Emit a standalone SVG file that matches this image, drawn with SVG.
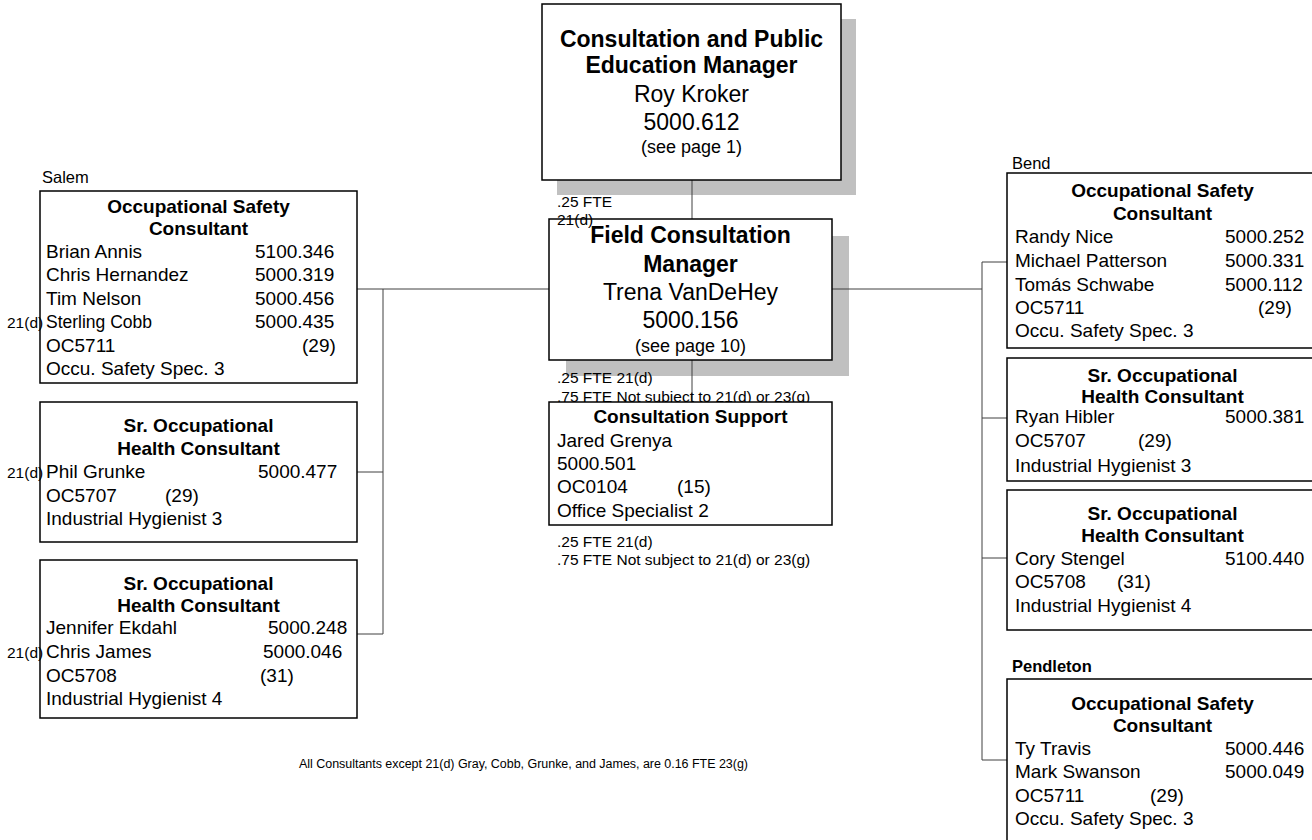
<svg xmlns="http://www.w3.org/2000/svg" width="1312" height="840" viewBox="0 0 1312 840">
  <style>
    text { font-family: "Liberation Sans", Arial, sans-serif; fill: #000; }
    .box { fill: #fff; stroke: #000; stroke-width: 1.5; }
    .shadow { fill: #c0c0c0; stroke: none; }
    .conn line { stroke: #404040; stroke-width: 1; }
    .ttl { font-weight: bold; font-size: 19px; text-anchor: middle; }
    .row { font-size: 19px; }
    .small { font-size: 15.5px; }
    .cond { font-size: 17.5px; }
    .loc { font-size: 16.5px; }
    .locb { font-size: 16.5px; font-weight: bold; }
    .mgr { font-size: 23px; text-anchor: middle; }
    .mgrb { font-size: 23px; font-weight: bold; text-anchor: middle; }
    .ref { font-size: 18px; text-anchor: middle; }
    .note { font-size: 12.5px; }
  </style>

  <!-- drop shadows behind the two manager boxes -->
  <rect class="shadow" x="557" y="19" width="299" height="176"/>
  <rect class="shadow" x="566" y="236" width="283" height="140"/>

  <!-- connectors -->
  <g id="connectors" class="conn">
    <line x1="692" y1="180" x2="692" y2="219"/>
    <line x1="692" y1="360" x2="692" y2="402"/>
    <line x1="383" y1="289" x2="549" y2="289"/>
    <line x1="832" y1="289" x2="982" y2="289"/>
    <!-- Salem bracket -->
    <line x1="383" y1="289" x2="383" y2="634"/>
    <line x1="357" y1="289" x2="383" y2="289"/>
    <line x1="357" y1="472" x2="383" y2="472"/>
    <line x1="357" y1="634" x2="383" y2="634"/>
    <!-- Bend / Pendleton bracket -->
    <line x1="982" y1="262" x2="982" y2="760"/>
    <line x1="982" y1="262" x2="1007" y2="262"/>
    <line x1="982" y1="418" x2="1007" y2="418"/>
    <line x1="982" y1="558" x2="1007" y2="558"/>
    <line x1="982" y1="760" x2="1007" y2="760"/>
  </g>

  <!-- Consultation and Public Education Manager -->
  <g id="node-cpe-manager">
    <rect class="box" x="542" y="4" width="299" height="176"/>
    <text class="mgrb" x="691.5" y="47">Consultation and Public</text>
    <text class="mgrb" x="691.5" y="73">Education Manager</text>
    <text class="mgr" x="691.5" y="102">Roy Kroker</text>
    <text class="mgr" x="691.5" y="130">5000.612</text>
    <text class="ref" x="691.5" y="153">(see page 1)</text>
  </g>

  <!-- Field Consultation Manager -->
  <g id="node-field-manager">
    <rect class="box" x="549" y="219" width="283" height="141"/>
    <text class="mgrb" x="690.5" y="243">Field Consultation</text>
    <text class="mgrb" x="690.5" y="272">Manager</text>
    <text class="mgr" x="690.5" y="300">Trena VanDeHey</text>
    <text class="mgr" x="690.5" y="328">5000.156</text>
    <text class="ref" x="690.5" y="352">(see page 10)</text>
  </g>
  <g id="fte-field">
    <text class="small" x="557" y="207">.25 FTE</text>
    <text class="small" x="557" y="225">21(d)</text>
  </g>

  <!-- Consultation Support -->
  <g id="fte-support-top">
    <text class="small" x="557" y="383">.25 FTE 21(d)</text>
    <text class="small" x="557" y="402">.75 FTE Not subject to 21(d) or 23(g)</text>
  </g>
  <g id="node-support">
    <rect class="box" x="549" y="402" width="283" height="123"/>
    <text class="ttl" x="690.5" y="423">Consultation Support</text>
    <text class="row" x="557" y="447">Jared Grenya</text>
    <text class="row" x="557" y="470">5000.501</text>
    <text class="row" x="557" y="493">OC0104</text>
    <text class="row" x="677" y="493">(15)</text>
    <text class="row" x="557" y="517">Office Specialist 2</text>
  </g>
  <g id="fte-support-bottom">
    <text class="small" x="557" y="547">.25 FTE 21(d)</text>
    <text class="small" x="557" y="565">.75 FTE Not subject to 21(d) or 23(g)</text>
  </g>

  <!-- Salem -->
  <text class="loc" x="42" y="183">Salem</text>
  <g id="node-salem-safety">
    <rect class="box" x="40" y="191" width="317" height="192"/>
    <text class="ttl" x="198.5" y="213">Occupational Safety</text>
    <text class="ttl" x="198.5" y="235">Consultant</text>
    <text class="row" x="46" y="258">Brian Annis</text>
    <text class="row" x="255" y="258">5100.346</text>
    <text class="row" x="46" y="281">Chris Hernandez</text>
    <text class="row" x="255" y="281">5000.319</text>
    <text class="row" x="46" y="305">Tim Nelson</text>
    <text class="row" x="255" y="305">5000.456</text>
    <text class="cond" x="46" y="328">Sterling Cobb</text>
    <text class="row" x="255" y="328">5000.435</text>
    <text class="row" x="46" y="352">OC5711</text>
    <text class="row" x="302" y="352">(29)</text>
    <text class="row" x="46" y="375">Occu. Safety Spec. 3</text>
  </g>
  <text class="small" x="7" y="328">21(d)</text>

  <g id="node-salem-health-1">
    <rect class="box" x="40" y="402" width="317" height="140"/>
    <text class="ttl" x="198.5" y="432">Sr. Occupational</text>
    <text class="ttl" x="198.5" y="455">Health Consultant</text>
    <text class="row" x="46" y="478">Phil Grunke</text>
    <text class="row" x="258" y="478">5000.477</text>
    <text class="row" x="46" y="502">OC5707</text>
    <text class="row" x="165" y="502">(29)</text>
    <text class="row" x="46" y="525">Industrial Hygienist 3</text>
  </g>
  <text class="small" x="7" y="478">21(d)</text>

  <g id="node-salem-health-2">
    <rect class="box" x="40" y="560" width="317" height="158"/>
    <text class="ttl" x="198.5" y="590">Sr. Occupational</text>
    <text class="ttl" x="198.5" y="612">Health Consultant</text>
    <text class="row" x="46" y="634">Jennifer Ekdahl</text>
    <text class="row" x="268" y="634">5000.248</text>
    <text class="row" x="46" y="658">Chris James</text>
    <text class="row" x="263" y="658">5000.046</text>
    <text class="row" x="46" y="682">OC5708</text>
    <text class="row" x="260" y="682">(31)</text>
    <text class="row" x="46" y="705">Industrial Hygienist 4</text>
  </g>
  <text class="small" x="7" y="658">21(d)</text>

  <!-- Bend -->
  <text class="loc" x="1012" y="169">Bend</text>
  <g id="node-bend-safety">
    <rect class="box" x="1007" y="173" width="311" height="175"/>
    <text class="ttl" x="1162.5" y="197">Occupational Safety</text>
    <text class="ttl" x="1162.5" y="220">Consultant</text>
    <text class="row" x="1015" y="243">Randy Nice</text>
    <text class="row" x="1225" y="243">5000.252</text>
    <text class="row" x="1015" y="267">Michael Patterson</text>
    <text class="row" x="1225" y="267">5000.331</text>
    <text class="row" x="1015" y="291">Tomás Schwabe</text>
    <text class="row" x="1225" y="291">5000.112</text>
    <text class="row" x="1015" y="314">OC5711</text>
    <text class="row" x="1258" y="314">(29)</text>
    <text class="row" x="1015" y="337">Occu. Safety Spec. 3</text>
  </g>

  <g id="node-bend-health-1">
    <rect class="box" x="1007" y="358" width="311" height="123"/>
    <text class="ttl" x="1162.5" y="382">Sr. Occupational</text>
    <text class="ttl" x="1162.5" y="403">Health Consultant</text>
    <text class="row" x="1015" y="423">Ryan Hibler</text>
    <text class="row" x="1225" y="423">5000.381</text>
    <text class="row" x="1015" y="447">OC5707</text>
    <text class="row" x="1138" y="447">(29)</text>
    <text class="row" x="1015" y="472">Industrial Hygienist 3</text>
  </g>

  <g id="node-bend-health-2">
    <rect class="box" x="1007" y="490" width="311" height="140"/>
    <text class="ttl" x="1162.5" y="520">Sr. Occupational</text>
    <text class="ttl" x="1162.5" y="542">Health Consultant</text>
    <text class="row" x="1015" y="565">Cory Stengel</text>
    <text class="row" x="1225" y="565">5100.440</text>
    <text class="row" x="1015" y="588">OC5708</text>
    <text class="row" x="1117" y="588">(31)</text>
    <text class="row" x="1015" y="612">Industrial Hygienist 4</text>
  </g>

  <!-- Pendleton -->
  <text class="locb" x="1012" y="672">Pendleton</text>
  <g id="node-pendleton-safety">
    <rect class="box" x="1007" y="679" width="311" height="175"/>
    <text class="ttl" x="1162.5" y="710">Occupational Safety</text>
    <text class="ttl" x="1162.5" y="732">Consultant</text>
    <text class="row" x="1015" y="755">Ty Travis</text>
    <text class="row" x="1225" y="755">5000.446</text>
    <text class="row" x="1015" y="778">Mark Swanson</text>
    <text class="row" x="1225" y="778">5000.049</text>
    <text class="row" x="1015" y="802">OC5711</text>
    <text class="row" x="1150" y="802">(29)</text>
    <text class="row" x="1015" y="825">Occu. Safety Spec. 3</text>
  </g>

  <!-- footnote -->
  <text class="note" x="299" y="768" textLength="449" lengthAdjust="spacing">All Consultants except 21(d) Gray, Cobb, Grunke, and James, are 0.16 FTE 23(g)</text>
</svg>
